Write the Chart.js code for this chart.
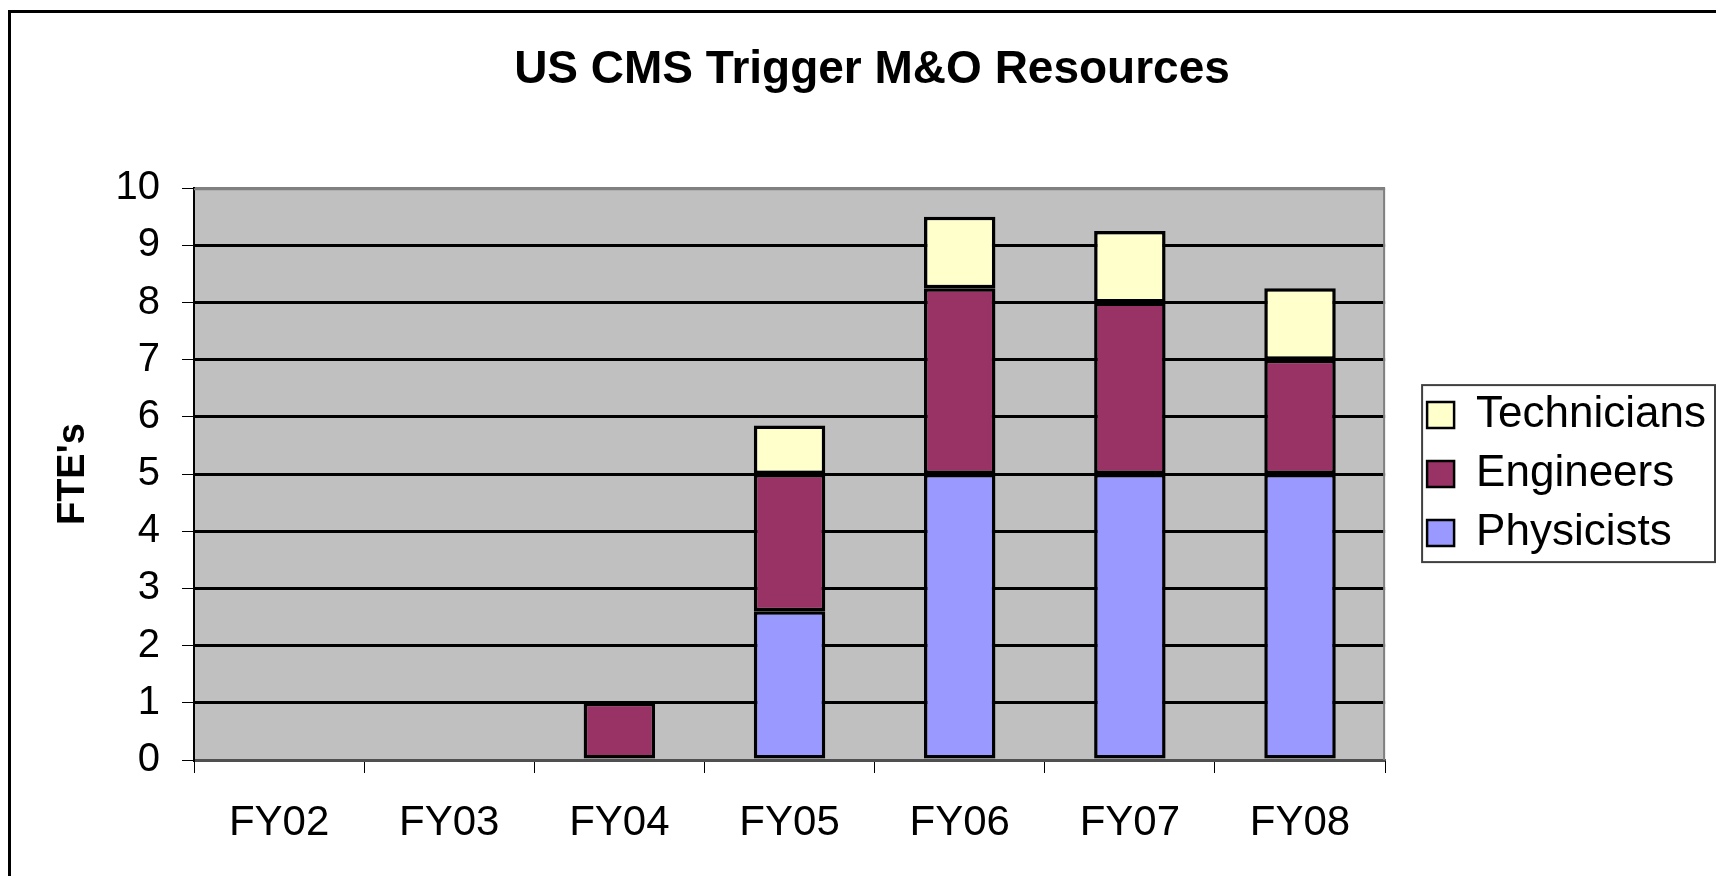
<!DOCTYPE html>
<html>
<head>
<meta charset="utf-8">
<script src="https://cdn.jsdelivr.net/npm/chart.js@4/dist/chart.umd.min.js"></script>
<style>
  html, body { margin: 0; padding: 0; background: #ffffff; }
  #wrap { width: 1716px; height: 876px; position: relative; }
  canvas { display: block; }
</style>
</head>
<body>
<div id="wrap"><canvas id="c" width="1716" height="876"></canvas></div>
<script>
// ---- data ----
const categories = ['FY02', 'FY03', 'FY04', 'FY05', 'FY06', 'FY07', 'FY08'];
const physicists  = [0, 0, 0, 2.6, 5, 5, 5];
const engineers   = [0, 0, 1, 2.4, 3.25, 3, 2];
const technicians = [0, 0, 0, 0.85, 1.25, 1.25, 1.25];
const yTicks = [0, 1, 2, 3, 4, 5, 6, 7, 8, 9, 10];

const FONT = "'Liberation Sans', Arial, sans-serif";

const bgPlugin = {
  id: 'bgPlugin',
  beforeDraw(chart) {
    const ctx = chart.ctx, a = chart.chartArea;
    ctx.save();
    ctx.fillStyle = '#ffffff';
    ctx.fillRect(0, 0, chart.width, chart.height);
    ctx.fillStyle = '#C0C0C0';
    ctx.fillRect(a.left, a.top, a.right - a.left, a.bottom - a.top);
    // outer frame
    ctx.strokeStyle = '#000';
    ctx.lineWidth = 3;
    ctx.beginPath();
    ctx.moveTo(9.5, chart.height + 5);
    ctx.lineTo(9.5, 11.5);
    ctx.lineTo(chart.width + 5, 11.5);
    ctx.stroke();
    ctx.restore();
  },
  beforeDatasetsDraw(chart) {
    const ctx = chart.ctx, a = chart.chartArea;
    ctx.save();
    ctx.strokeStyle = '#808080';
    ctx.lineWidth = 2;
    ctx.beginPath();
    ctx.moveTo(a.left, a.top + 1);
    ctx.lineTo(a.right - 1, a.top + 1);
    ctx.lineTo(a.right - 1, a.bottom);
    ctx.stroke();
    ctx.restore();
  },
  afterDraw(chart) {
    const lg = chart.legend;
    if (!lg || !lg.legendHitBoxes || !lg.legendHitBoxes.length) return;
    const hb = lg.legendHitBoxes;
    let first = hb[0], last = hb[0];
    hb.forEach(h => { if (h.top < first.top) first = h; if (h.top > last.top) last = h; });
    const ctx = chart.ctx;
    ctx.save();
    ctx.strokeStyle = '#404040';
    ctx.lineWidth = 2;
    const l = first.left - 5;
    const t = first.top - 8;
    const b = last.top + last.height + 7;
    ctx.strokeRect(l, t, chart.width - 1 - l, b - t);
    ctx.restore();
  }
};

const bw = (c) => (c.type === 'data' && !c.raw) ? 0 : 3.5;

new Chart(document.getElementById('c'), {
  type: 'bar',
  data: {
    labels: categories,
    datasets: [
      { label: 'Physicists', data: physicists, backgroundColor: '#9999FF', borderColor: '#000', borderWidth: bw, borderSkipped: false },
      { label: 'Engineers', data: engineers, backgroundColor: '#993366', borderColor: '#000', borderWidth: bw, borderSkipped: false },
      { label: 'Technicians', data: technicians, backgroundColor: '#FFFFCC', borderColor: '#000', borderWidth: bw, borderSkipped: false }
    ]
  },
  options: {
    responsive: false,
    animation: false,
    devicePixelRatio: 1,
    layout: { padding: { left: 28, right: 0, top: 0, bottom: 0 } },
    datasets: { bar: { categoryPercentage: 1.0, barPercentage: 0.42 } },
    plugins: {
      tooltip: { enabled: false },
      title: {
        display: true,
        text: 'US CMS Trigger M&O Resources',
        color: '#000',
        font: { family: FONT, size: 46, weight: 'bold' },
        padding: { top: 43, bottom: 90 }
      },
      legend: {
        position: 'right',
        fullSize: false,
        maxWidth: 420,
        reverse: true,
        labels: {
          color: '#000',
          font: { family: FONT, size: 44 },
          boxWidth: 27,
          boxHeight: 26,
          padding: 15,
          generateLabels: (chart) => Chart.defaults.plugins.legend.labels.generateLabels(chart)
            .map(it => Object.assign(it, { lineWidth: 2.5, strokeStyle: '#000' }))
        }
      }
    },
    scales: {
      x: {
        stacked: true,
        grid: { display: true, drawOnChartArea: false, drawTicks: true, tickLength: 13, tickColor: '#000', tickWidth: 1, offset: true },
        border: { display: true, color: '#505050', width: 2 },
        ticks: { color: '#000', font: { family: FONT, size: 42 }, padding: 25, maxRotation: 0 },
        afterFit: (s) => { s.height = 116; }
      },
      y: {
        stacked: true,
        min: 0,
        max: 10,
        afterBuildTicks: (s) => { s.ticks = yTicks.map(v => ({ value: v })); },
        grid: {
          color: (c) => c.tick && c.tick.value === 10 ? '#808080' : (c.tick && c.tick.value === 0 ? '#505050' : '#000'),
          lineWidth: 3,
          tickLength: 12,
          tickColor: '#000',
          tickWidth: 1
        },
        border: { display: true, color: '#000', width: 2 },
        ticks: { color: '#000', font: { family: FONT, size: 40 }, padding: 22 },
        title: {
          display: true,
          text: "FTE's",
          color: '#000',
          font: { family: FONT, size: 38, weight: 'bold' },
          padding: { top: 23, bottom: 0 }
        },
        afterFit: (s) => { s.width = 166; }
      },
      y2: {
        type: 'linear',
        position: 'right',
        display: true,
        grid: { display: false, drawTicks: false },
        border: { display: false },
        ticks: { display: false },
        afterFit: (s) => { s.width = 27; }
      }
    }
  },
  plugins: [bgPlugin]
});
</script>
</body>
</html>
